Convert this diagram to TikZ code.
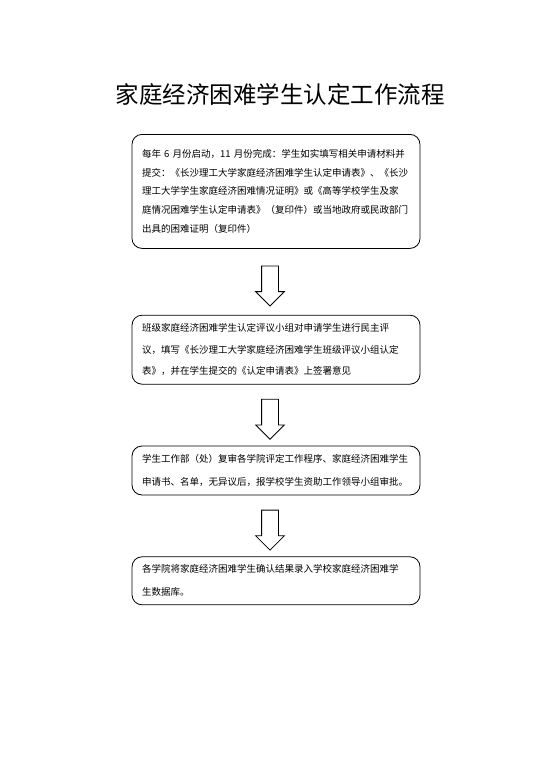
\documentclass[tikz,border=0pt]{standalone}
\usepackage{fontspec}
\setmainfont{Noto Sans CJK SC}
\usetikzlibrary{positioning,calc,shapes.arrows}
\begin{document}
\begin{tikzpicture}[x=1pt,y=-1pt,
        box/.style = {draw, rounded corners=10pt, line width=0.8pt, text width=268pt,
                      inner xsep=10pt, inner ysep=0pt, align=left, minimum width=288pt},
        darrow/.style = {draw, single arrow, rotate=-90, line width=0.8pt, inner xsep=0pt, inner ysep=8pt,
                         minimum height=40pt, single arrow head extend=6pt}]
        \useasboundingbox (0,0) rectangle (543,768);
        \node (t) at (280,94) {\fontsize{23.5}{26}\selectfont 家庭经济困难学生认定工作流程};
        \node[box, anchor=north, minimum height=114pt, font=\fontsize{9.5}{18.7}\selectfont] (1) at (276,134)
            {每年 6 月份启动，11 月份完成：学生如实填写相关申请材料并\\
             提交：《长沙理工大学家庭经济困难学生认定申请表》、《长沙\\
             理工大学学生家庭经济困难情况证明》或《高等学校学生及家\\
             庭情况困难学生认定申请表》（复印件）或当地政府或民政部门\\
             出具的困难证明（复印件）};
        \node[box, below=66pt of 1, minimum height=69pt, font=\fontsize{9.5}{21.5}\selectfont] (2)
            {班级家庭经济困难学生认定评议小组对申请学生进行民主评\\
             议，填写《长沙理工大学家庭经济困难学生班级评议小组认定\\
             表》，并在学生提交的《认定申请表》上签署意见};
        \node[box, below=61pt of 2, minimum height=49pt, font=\fontsize{9.5}{23}\selectfont] (3)
            {学生工作部（处）复审各学院评定工作程序、家庭经济困难学生\\
             申请书、名单，无异议后，报学校学生资助工作领导小组审批。};
        \node[box, below=61pt of 3, minimum height=48pt, font=\fontsize{9.5}{23}\selectfont] (4)
            {各学院将家庭经济困难学生确认结果录入学校家庭经济困难学\\
             生数据库。};
        % arrows between the steps
        \node[xshift=-6pt, darrow] (a1) at ($(1.south)!0.5!(2.north)$) {};
        \node[xshift=-6pt, darrow] (a2) at ($(2.south)!0.5!(3.north)$) {};
        \node[xshift=-6pt, darrow] (a3) at ($(3.south)!0.5!(4.north)$) {};
\end{tikzpicture}
\end{document}
